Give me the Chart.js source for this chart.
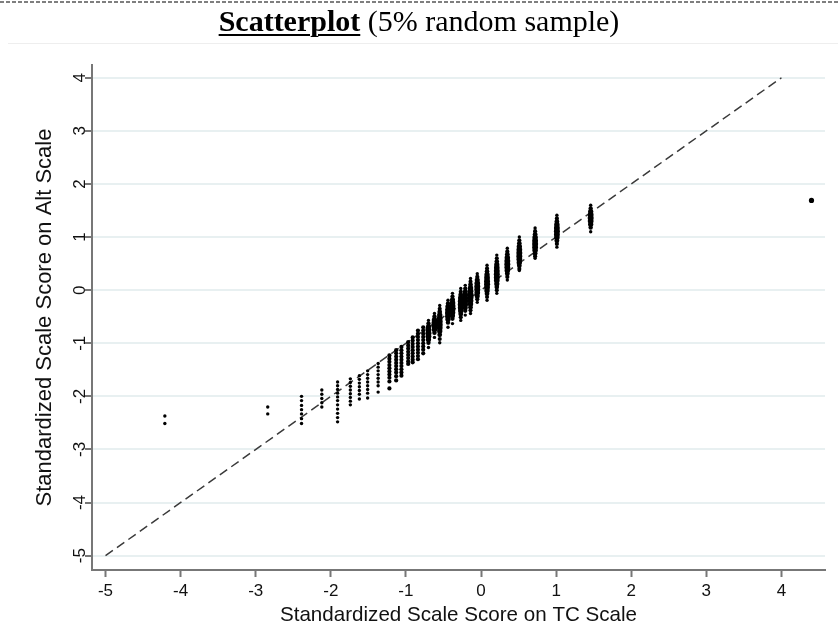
<!DOCTYPE html>
<html>
<head>
<meta charset="utf-8">
<script src="https://cdn.jsdelivr.net/npm/chart.js@4"></script>
<style>
  html, body { margin: 0; padding: 0; background: #fff; }
  #wrap { position: relative; width: 838px; height: 644px; overflow: hidden; }
  #title {
    position: absolute; left: 0; top: 6px; width: 838px;
    text-align: center; font: 30px "Liberation Serif", "Times New Roman", serif;
    line-height: 30px; color: #000;
  }
  #title u { text-decoration-thickness: 2px; text-underline-offset: 3px; }
  #chart { position: absolute; left: 0; top: 0; }
</style>
</head>
<body>
<div id="wrap">
  <canvas id="chart" width="838" height="644"></canvas>
  <div id="title"><b><u>Scatterplot</u></b> (5% random sample)</div>
</div>
<script>
// tick values on both axes
const xTicks = [-5, -4, -3, -2, -1, 0, 1, 2, 3, 4];
const yTicks = [-5, -4, -3, -2, -1, 0, 1, 2, 3, 4];

// TC scale score of each vertical strip of points
const stripX = [-4.21, -2.84, -2.39, -2.12, -1.91, -1.74, -1.62, -1.51, -1.37, -1.22,
  -1.13, -1.06, -0.97, -0.91, -0.84, -0.77, -0.70, -0.62, -0.55, -0.44,
  -0.38, -0.27, -0.21, -0.14, -0.05, 0.08, 0.21, 0.35, 0.51, 0.72,
  1.01, 1.46, 4.40];

// Alt scale scores
const stripY = [
  [-2.37, -2.51],
  [-2.20, -2.33],
  [-2.00, -2.08, -2.17, -2.25, -2.33, -2.42, -2.51],
  [-1.88, -1.96, -2.04, -2.12, -2.20],
  [-1.73, -1.80, -1.87, -1.94, -2.01, -2.08, -2.16, -2.24, -2.32, -2.40, -2.48],
  [-1.67, -1.74, -1.81, -1.88, -1.95, -2.02, -2.09, -2.16],
  [-1.61, -1.68, -1.75, -1.82, -1.89, -1.96, -2.05],
  [-1.52, -1.59, -1.66, -1.73, -1.80, -1.87, -1.94, -2.03],
  [-1.38, -1.45, -1.52, -1.59, -1.66, -1.73, -1.80, -1.92],
  [-1.23, -1.29, -1.35, -1.41, -1.47, -1.53, -1.59, -1.65, -1.72, -1.85],
  [-1.13, -1.19, -1.25, -1.31, -1.37, -1.43, -1.49, -1.55, -1.62, -1.70],
  [-1.07, -1.13, -1.19, -1.25, -1.31, -1.37, -1.43, -1.49, -1.55, -1.61],
  [-0.98, -1.04, -1.10, -1.16, -1.22, -1.28, -1.34, -1.39],
  [-0.89, -0.95, -1.01, -1.07, -1.13, -1.19, -1.25, -1.31, -1.36],
  [-0.76, -0.82, -0.88, -0.94, -1.00, -1.06, -1.12, -1.18, -1.24, -1.30],
  [-0.70, -0.76, -0.82, -0.88, -0.94, -1.00, -1.06, -1.12, -1.19],
  [-0.57, -0.63, -0.69, -0.75, -0.81, -0.87, -0.93, -0.99, -1.08],
  [-0.44, -0.50, -0.56, -0.62, -0.68, -0.74, -0.80, -0.89],
  [-0.29, -0.35, -0.41, -0.47, -0.53, -0.59, -0.65, -0.71, -0.77, -0.84, -0.92, -0.99],
  [-0.19, -0.25, -0.31, -0.37, -0.43, -0.49, -0.55, -0.61, -0.70],
  [-0.06, -0.12, -0.18, -0.24, -0.30, -0.36, -0.42, -0.48, -0.54, -0.63],
  [0.03, -0.03, -0.09, -0.15, -0.21, -0.27, -0.33, -0.39, -0.45, -0.51, -0.57],
  [0.09, 0.03, -0.03, -0.09, -0.15, -0.21, -0.27, -0.33, -0.39, -0.47],
  [0.22, 0.16, 0.10, 0.04, -0.02, -0.08, -0.14, -0.20, -0.26, -0.32, -0.38, -0.44],
  [0.31, 0.25, 0.19, 0.13, 0.07, 0.01, -0.05, -0.11, -0.17, -0.23],
  [0.47, 0.41, 0.35, 0.29, 0.23, 0.17, 0.11, 0.05, -0.01, -0.07, -0.13, -0.19],
  [0.66, 0.60, 0.54, 0.48, 0.42, 0.36, 0.30, 0.24, 0.18, 0.12, 0.06, 0.00, -0.06],
  [0.79, 0.73, 0.67, 0.61, 0.55, 0.49, 0.43, 0.37, 0.31, 0.25, 0.19],
  [1.00, 0.94, 0.88, 0.82, 0.76, 0.70, 0.64, 0.58, 0.52, 0.46, 0.40, 0.37],
  [1.17, 1.11, 1.05, 0.99, 0.93, 0.87, 0.81, 0.75, 0.69, 0.64, 0.60],
  [1.41, 1.35, 1.29, 1.23, 1.17, 1.11, 1.05, 0.99, 0.93, 0.87, 0.81],
  [1.60, 1.54, 1.48, 1.42, 1.36, 1.30, 1.24, 1.18, 1.10],
  [1.69]
];

// 45 degree reference line
const lineX = [-5, 4];
const lineY = [-5, 4];

// flatten strips; denser strips get bigger dots, the densest ones fatter mid-strip
const points = [];
const dotSize = [];
stripX.forEach((x, i) => {
  const n = stripY[i].length;
  stripY[i].forEach((y, j) => {
    points.push({ x: x, y: y });
    if (n === 1) dotSize.push(2.6);
    else if (x < -1.25) dotSize.push(1.7);
    else if (x < -0.75) dotSize.push(2.1);
    else dotSize.push(1.7 + 1.3 * Math.sin(Math.PI * j / (n - 1)));
  });
});

// frame lines around the title (dashed top rule, faint rule under title)
const frame = {
  id: 'frame',
  beforeDraw(chart) {
    const ctx = chart.ctx;
    ctx.save();
    ctx.strokeStyle = '#555';
    ctx.lineWidth = 1.5;
    ctx.setLineDash([4, 2]);
    ctx.beginPath(); ctx.moveTo(0, 2); ctx.lineTo(838, 2); ctx.stroke();
    ctx.setLineDash([]);
    ctx.strokeStyle = '#eeeeee';
    ctx.lineWidth = 1;
    ctx.beginPath(); ctx.moveTo(8, 43.5); ctx.lineTo(838, 43.5); ctx.stroke();
    ctx.restore();
  }
};

const tickFont = { family: '"Liberation Sans", Arial, sans-serif', size: 17 };

new Chart(document.getElementById('chart'), {
  type: 'scatter',
  data: {
    datasets: [
      {
        data: points,
        backgroundColor: '#000',
        borderColor: '#000',
        borderWidth: 0,
        pointRadius: ctx => dotSize[ctx.dataIndex],
        order: 1
      },
      {
        type: 'line',
        data: lineX.map((x, i) => ({ x: x, y: lineY[i] })),
        borderColor: '#3a3a3a',
        borderWidth: 1.5,
        borderDash: [9, 5],
        pointRadius: 0,
        fill: false,
        order: 2
      }
    ]
  },
  options: {
    responsive: false,
    animation: false,
    devicePixelRatio: 1,
    layout: { padding: { top: 65, right: 13, bottom: 0, left: 0 } },
    plugins: { legend: { display: false }, tooltip: { enabled: false } },
    scales: {
      x: {
        type: 'linear',
        min: -5.18,
        max: 4.58,
        afterBuildTicks: s => { s.ticks = xTicks.map(v => ({ value: v })); },
        afterFit: s => { s.height = 74; },
        grid: { drawOnChartArea: false, tickLength: 7, tickColor: '#777', tickWidth: 2 },
        border: { color: '#777', width: 2 },
        ticks: { font: tickFont, color: '#111', padding: 4, maxRotation: 0 },
        title: {
          display: true, text: 'Standardized Scale Score on TC Scale',
          font: { family: '"Liberation Sans", Arial, sans-serif', size: 20.6 },
          color: '#111', padding: { top: 0, bottom: 16 }
        }
      },
      y: {
        type: 'linear',
        min: -5.27,
        max: 4.24,
        afterBuildTicks: s => { s.ticks = yTicks.map(v => ({ value: v })); },
        afterFit: s => { s.width = 92; },
        grid: { color: '#e8f0f1', lineWidth: 2, tickLength: 7, tickColor: '#777', tickWidth: 2 },
        border: { color: '#777', width: 2 },
        ticks: { font: tickFont, color: '#111', padding: -3, minRotation: 90, maxRotation: 90, crossAlign: 'center' },
        title: {
          display: true, text: 'Standardized Scale Score on Alt Scale',
          font: { family: '"Liberation Sans", Arial, sans-serif', size: 22 },
          color: '#111', padding: { top: 32, bottom: 0 }
        }
      }
    }
  },
  plugins: [frame]
});
</script>
</body>
</html>
